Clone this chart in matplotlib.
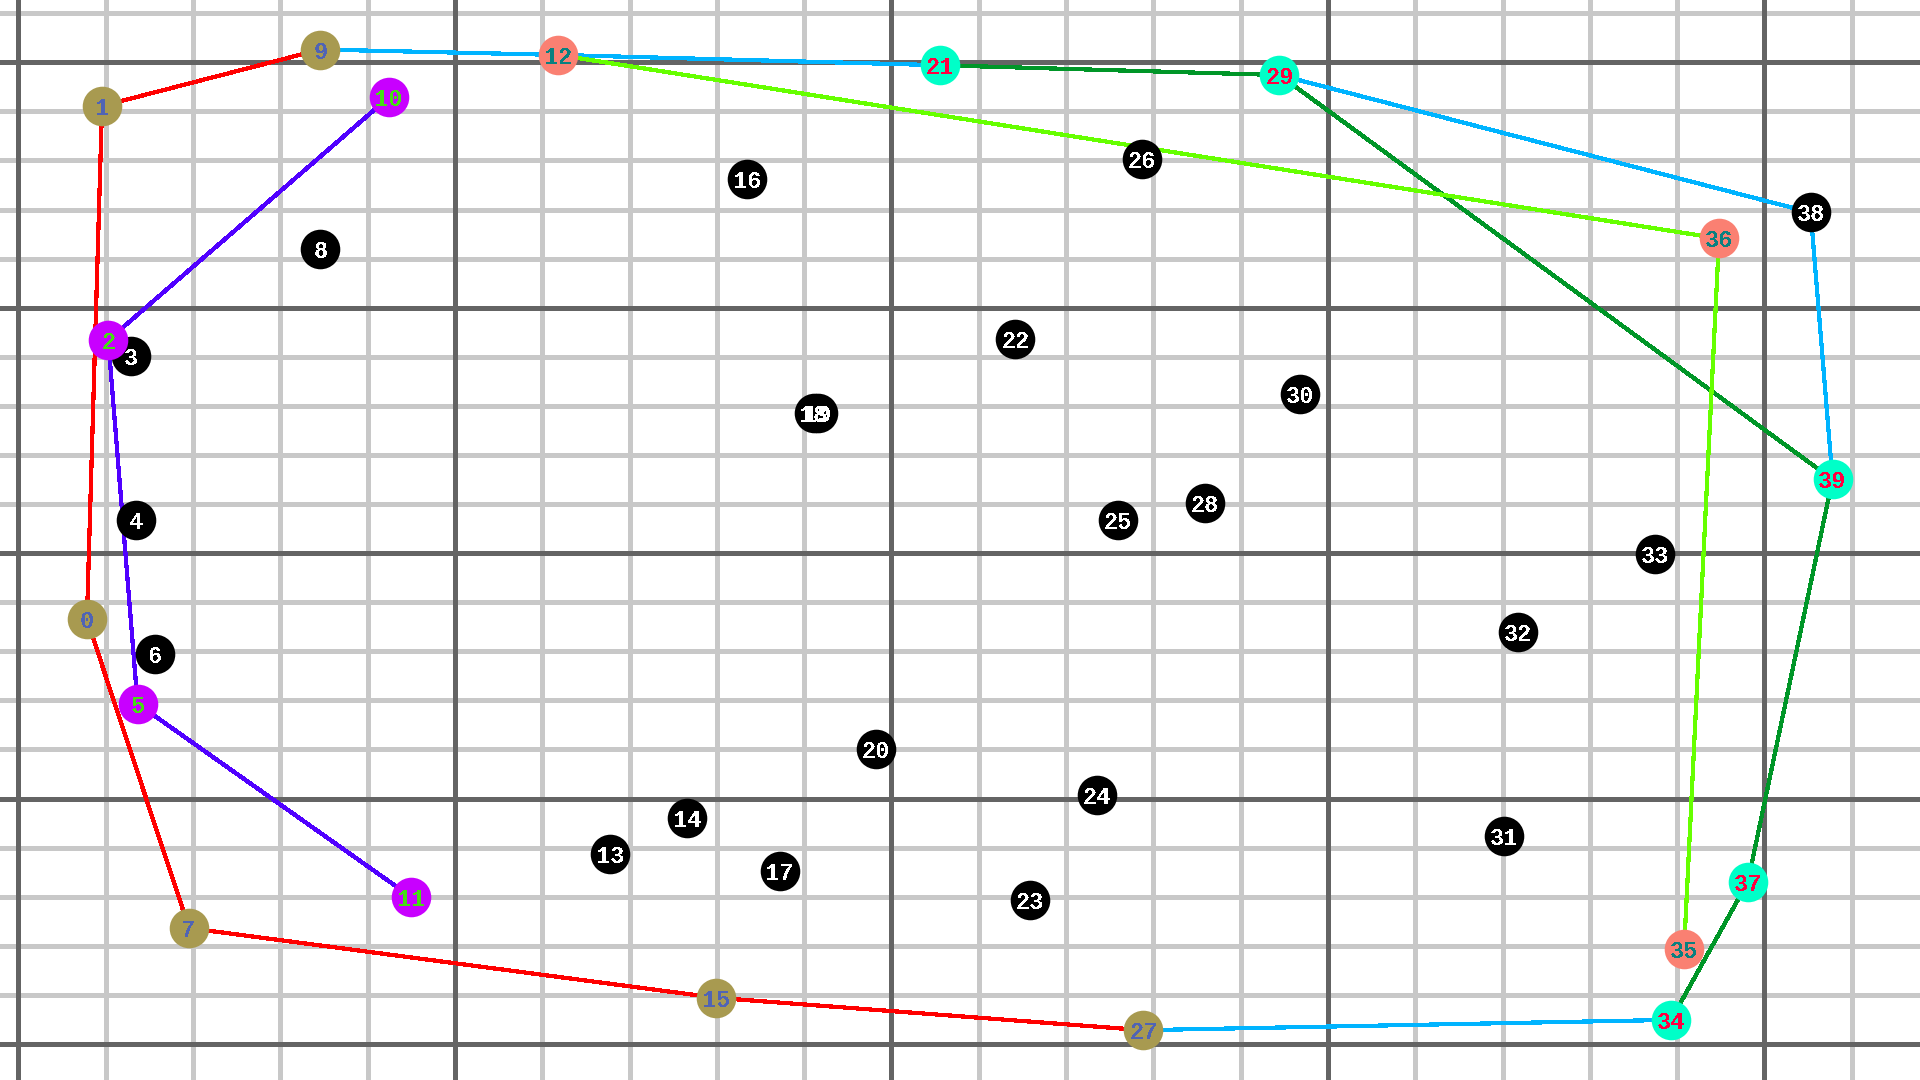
import matplotlib
matplotlib.use("Agg")
import matplotlib.pyplot as plt

# point positions, in grid cells (major line every 5 cells), y grows downward
pt_x = [0.785, 0.958, 1.029, 1.294, 1.351, 1.365, 1.570, 1.954, 3.459, 3.459,
        4.245, 4.502, 6.186, 6.779, 7.662, 7.994, 8.349, 8.719, 9.11, 9.155,
        9.818, 10.557, 11.42, 11.59, 12.35, 12.59, 12.87, 12.885, 13.59, 14.445,
        14.685, 17.017, 17.18, 18.75, 18.93, 19.08, 19.48, 19.81, 20.53, 20.78]
pt_y = [11.35, 0.89, 5.66, 5.98, 9.33, 13.07, 12.05, 17.64, 3.81, -0.26,
        0.71, 17.01, -0.15, 16.13, 15.40, 19.06, 2.38, 16.48, 7.145, 7.145,
        13.99, 0.06, 5.64, 17.06, 14.93, 9.33, 1.98, 19.72, 8.98, 0.26,
        6.75, 15.76, 11.61, 10.01, 19.51, 18.07, 3.59, 16.70, 3.06, 8.50]

# coloured point groups
olive_ids = [0, 1, 7, 9, 15, 27]
magenta_ids = [2, 5, 10, 11]
salmon_ids = [12, 35, 36]
aqua_ids = [21, 29, 34, 37, 39]

# polylines through point ids
red_path = [9, 1, 0, 7, 15, 27]
blue_paths = [[9, 12, 21], [29, 38, 39], [27, 34]]
dgreen_path = [21, 29, 39, 37, 34]
lgreen_path = [12, 36, 35]
purple_path = [10, 2, 5, 11]

plt.rcParams['text.antialiased'] = False

fig = plt.figure(figsize=(19.2, 10.8), dpi=100)
ax = fig.add_axes([0, 0, 1, 1])
ax.set_xlim(-0.2108, 21.782)
ax.set_ylim(20.735, -1.269)
ax.axis('off')

# grid
for i in range(0, 22):
    c = '#646464' if i % 5 == 0 else '#c8c8c8'
    z = 1 if i % 5 == 0 else 0.5
    ax.axvline(i, color=c, lw=2.2, zorder=z, antialiased=False)
for j in range(-1, 21):
    c = '#646464' if j % 5 == 0 else '#c8c8c8'
    z = 1 if j % 5 == 0 else 0.5
    ax.axhline(j, color=c, lw=2.2, zorder=z, antialiased=False)


def draw_path(ids, color):
    ax.plot([pt_x[k] for k in ids], [pt_y[k] for k in ids], color=color,
            lw=2.3, zorder=2, antialiased=False, solid_capstyle='round')


draw_path(red_path, '#ff0000')
for p in blue_paths:
    draw_path(p, '#00b4ff')
draw_path(dgreen_path, '#009628')
draw_path(lgreen_path, '#66ff00')
draw_path(purple_path, '#5000ff')

coloured = olive_ids + magenta_ids + salmon_ids + aqua_ids
black_ids = [k for k in range(len(pt_x)) if k not in coloured]

groups = [(black_ids, '#000000', '#ffffff'),
          (olive_ids, '#a89a50', '#5064b4'),
          (magenta_ids, '#c800ff', '#46dc14'),
          (salmon_ids, '#fa8072', '#0a8080'),
          (aqua_ids, '#00ffc8', '#ff0040')]

# circles first, labels on top of all circles
z = 3
for ids, fill, txt in groups:
    ax.scatter([pt_x[k] for k in ids], [pt_y[k] for k in ids], s=28.5 ** 2,
               color=fill, linewidths=0, zorder=z, antialiased=False)
    z += 1
    for k in ids:
        ax.text(pt_x[k], pt_y[k], str(k), color=txt, ha='center',
                va='center_baseline', fontsize=17, fontweight='bold',
                family=['Liberation Mono', 'DejaVu Sans Mono'], zorder=20)

fig.savefig('out.png', dpi=100)
